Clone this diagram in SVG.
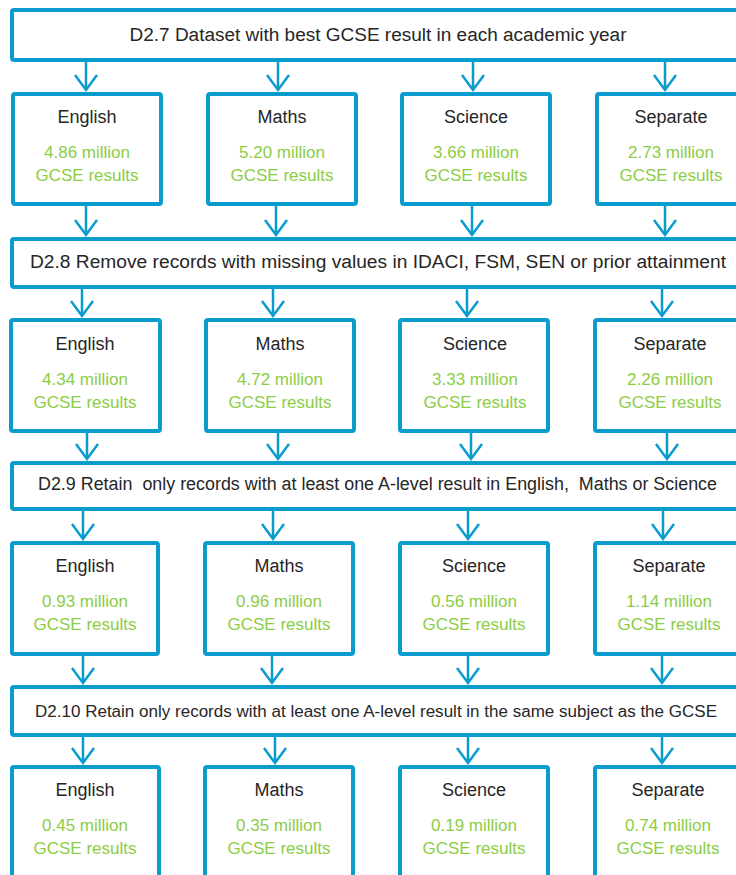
<svg xmlns="http://www.w3.org/2000/svg" width="736" height="875" viewBox="0 0 736 875">
<style>
.box{fill:#fff;stroke:#0a9bcf;stroke-width:4}
.hd{font-family:"Liberation Sans",Arial,sans-serif;font-size:18px;fill:#262626;text-anchor:middle}
.hds{font-family:"Liberation Sans",Arial,sans-serif;font-size:16px;fill:#262626;text-anchor:middle}
.nm{font-family:"Liberation Sans",Arial,sans-serif;font-size:18px;fill:#262626;text-anchor:middle}
.gr{font-family:"Liberation Sans",Arial,sans-serif;font-size:17px;fill:#8ccd45;text-anchor:middle}
.ar{fill:none;stroke:#0a9bcf;stroke-width:2.5}
</style>
<rect width="736" height="875" fill="#fff"/>

<g id="connectors">
<path class="ar" d="M86 62V90M75 75L86 90L97 75"/>
<path class="ar" d="M278 62V90M267 75L278 90L289 75"/>
<path class="ar" d="M473 62V90M462 75L473 90L484 75"/>
<path class="ar" d="M665 62V90M654 75L665 90L676 75"/>

<path class="ar" d="M86 206V235M75 220L86 235L97 220"/>
<path class="ar" d="M276 206V235M265 220L276 235L287 220"/>
<path class="ar" d="M472 206V235M461 220L472 235L483 220"/>
<path class="ar" d="M665 206V235M654 220L665 235L676 220"/>

<path class="ar" d="M82 289V316M71 301L82 316L93 301"/>
<path class="ar" d="M273 289V316M262 301L273 316L284 301"/>
<path class="ar" d="M467 289V316M456 301L467 316L478 301"/>
<path class="ar" d="M662 289V316M651 301L662 316L673 301"/>

<path class="ar" d="M87 433V459M76 444L87 459L98 444"/>
<path class="ar" d="M278 433V459M267 444L278 459L289 444"/>
<path class="ar" d="M471 433V459M460 444L471 459L482 444"/>
<path class="ar" d="M667 433V459M656 444L667 459L678 444"/>

<path class="ar" d="M83 511V539M72 524L83 539L94 524"/>
<path class="ar" d="M273 511V539M262 524L273 539L284 524"/>
<path class="ar" d="M468 511V539M457 524L468 539L479 524"/>
<path class="ar" d="M663 511V539M652 524L663 539L674 524"/>

<path class="ar" d="M83 656V683M72 668L83 683L94 668"/>
<path class="ar" d="M272 656V683M261 668L272 683L283 668"/>
<path class="ar" d="M468 656V683M457 668L468 683L479 668"/>
<path class="ar" d="M662 656V683M651 668L662 683L673 668"/>

<path class="ar" d="M83 737V763M72 748L83 763L94 748"/>
<path class="ar" d="M275 737V763M264 748L275 763L286 748"/>
<path class="ar" d="M468 737V763M457 748L468 763L479 748"/>
<path class="ar" d="M662 737V763M651 748L662 763L673 748"/>
</g>

<g id="d27">
<rect class="box" x="12" y="10" width="740" height="50" rx="2"/>
<text class="hd" x="378" y="41" textLength="497" lengthAdjust="spacingAndGlyphs">D2.7 Dataset with best GCSE result in each academic year</text>
</g>
<g id="r1-english"><rect class="box" x="13" y="94" width="148" height="110" rx="2"/><text class="nm" x="87" y="123">English</text><text class="gr" x="87" y="158">4.86 million</text><text class="gr" x="87" y="181">GCSE results</text></g>
<g id="r1-maths"><rect class="box" x="208" y="94" width="148" height="110" rx="2"/><text class="nm" x="282" y="123">Maths</text><text class="gr" x="282" y="158">5.20 million</text><text class="gr" x="282" y="181">GCSE results</text></g>
<g id="r1-science"><rect class="box" x="402" y="94" width="148" height="110" rx="2"/><text class="nm" x="476" y="123">Science</text><text class="gr" x="476" y="158">3.66 million</text><text class="gr" x="476" y="181">GCSE results</text></g>
<g id="r1-separate"><rect class="box" x="597" y="94" width="148" height="110" rx="2"/><text class="nm" x="671" y="123">Separate</text><text class="gr" x="671" y="158">2.73 million</text><text class="gr" x="671" y="181">GCSE results</text></g>

<g id="d28">
<rect class="box" x="12" y="239" width="740" height="48" rx="2"/>
<text class="hd" x="378" y="268" textLength="696" lengthAdjust="spacingAndGlyphs">D2.8 Remove records with missing values in IDACI, FSM, SEN or prior attainment</text>
</g>
<g id="r2-english"><rect class="box" x="11" y="320" width="149" height="111" rx="2"/><text class="nm" x="85" y="350">English</text><text class="gr" x="85" y="385">4.34 million</text><text class="gr" x="85" y="408">GCSE results</text></g>
<g id="r2-maths"><rect class="box" x="206" y="320" width="148" height="111" rx="2"/><text class="nm" x="280" y="350">Maths</text><text class="gr" x="280" y="385">4.72 million</text><text class="gr" x="280" y="408">GCSE results</text></g>
<g id="r2-science"><rect class="box" x="400" y="320" width="148" height="111" rx="2"/><text class="nm" x="475" y="350">Science</text><text class="gr" x="475" y="385">3.33 million</text><text class="gr" x="475" y="408">GCSE results</text></g>
<g id="r2-separate"><rect class="box" x="595" y="320" width="148" height="111" rx="2"/><text class="nm" x="670" y="350">Separate</text><text class="gr" x="670" y="385">2.26 million</text><text class="gr" x="670" y="408">GCSE results</text></g>

<g id="d29">
<rect class="box" x="12" y="463" width="740" height="46" rx="2"/>
<text class="hd" x="377.5" y="490" textLength="679" lengthAdjust="spacingAndGlyphs" xml:space="preserve">D2.9 Retain  only records with at least one A-level result in English,  Maths or Science</text>
</g>
<g id="r3-english"><rect class="box" x="12" y="543" width="146" height="111" rx="2"/><text class="nm" x="85" y="572">English</text><text class="gr" x="85" y="607">0.93 million</text><text class="gr" x="85" y="630">GCSE results</text></g>
<g id="r3-maths"><rect class="box" x="205" y="543" width="148" height="111" rx="2"/><text class="nm" x="279" y="572">Maths</text><text class="gr" x="279" y="607">0.96 million</text><text class="gr" x="279" y="630">GCSE results</text></g>
<g id="r3-science"><rect class="box" x="400" y="543" width="148" height="111" rx="2"/><text class="nm" x="474" y="572">Science</text><text class="gr" x="474" y="607">0.56 million</text><text class="gr" x="474" y="630">GCSE results</text></g>
<g id="r3-separate"><rect class="box" x="595" y="543" width="148" height="111" rx="2"/><text class="nm" x="669" y="572">Separate</text><text class="gr" x="669" y="607">1.14 million</text><text class="gr" x="669" y="630">GCSE results</text></g>

<g id="d210">
<rect class="box" x="12" y="687" width="740" height="48" rx="2"/>
<text class="hds" x="376" y="717" textLength="682" lengthAdjust="spacingAndGlyphs">D2.10 Retain only records with at least one A-level result in the same subject as the GCSE</text>
</g>
<g id="r4-english"><rect class="box" x="12" y="767" width="147" height="130" rx="2"/><text class="nm" x="85" y="796">English</text><text class="gr" x="85" y="831">0.45 million</text><text class="gr" x="85" y="854">GCSE results</text></g>
<g id="r4-maths"><rect class="box" x="205" y="767" width="148" height="130" rx="2"/><text class="nm" x="279" y="796">Maths</text><text class="gr" x="279" y="831">0.35 million</text><text class="gr" x="279" y="854">GCSE results</text></g>
<g id="r4-science"><rect class="box" x="400" y="767" width="148" height="130" rx="2"/><text class="nm" x="474" y="796">Science</text><text class="gr" x="474" y="831">0.19 million</text><text class="gr" x="474" y="854">GCSE results</text></g>
<g id="r4-separate"><rect class="box" x="595" y="767" width="148" height="130" rx="2"/><text class="nm" x="668" y="796">Separate</text><text class="gr" x="668" y="831">0.74 million</text><text class="gr" x="668" y="854">GCSE results</text></g>
</svg>
